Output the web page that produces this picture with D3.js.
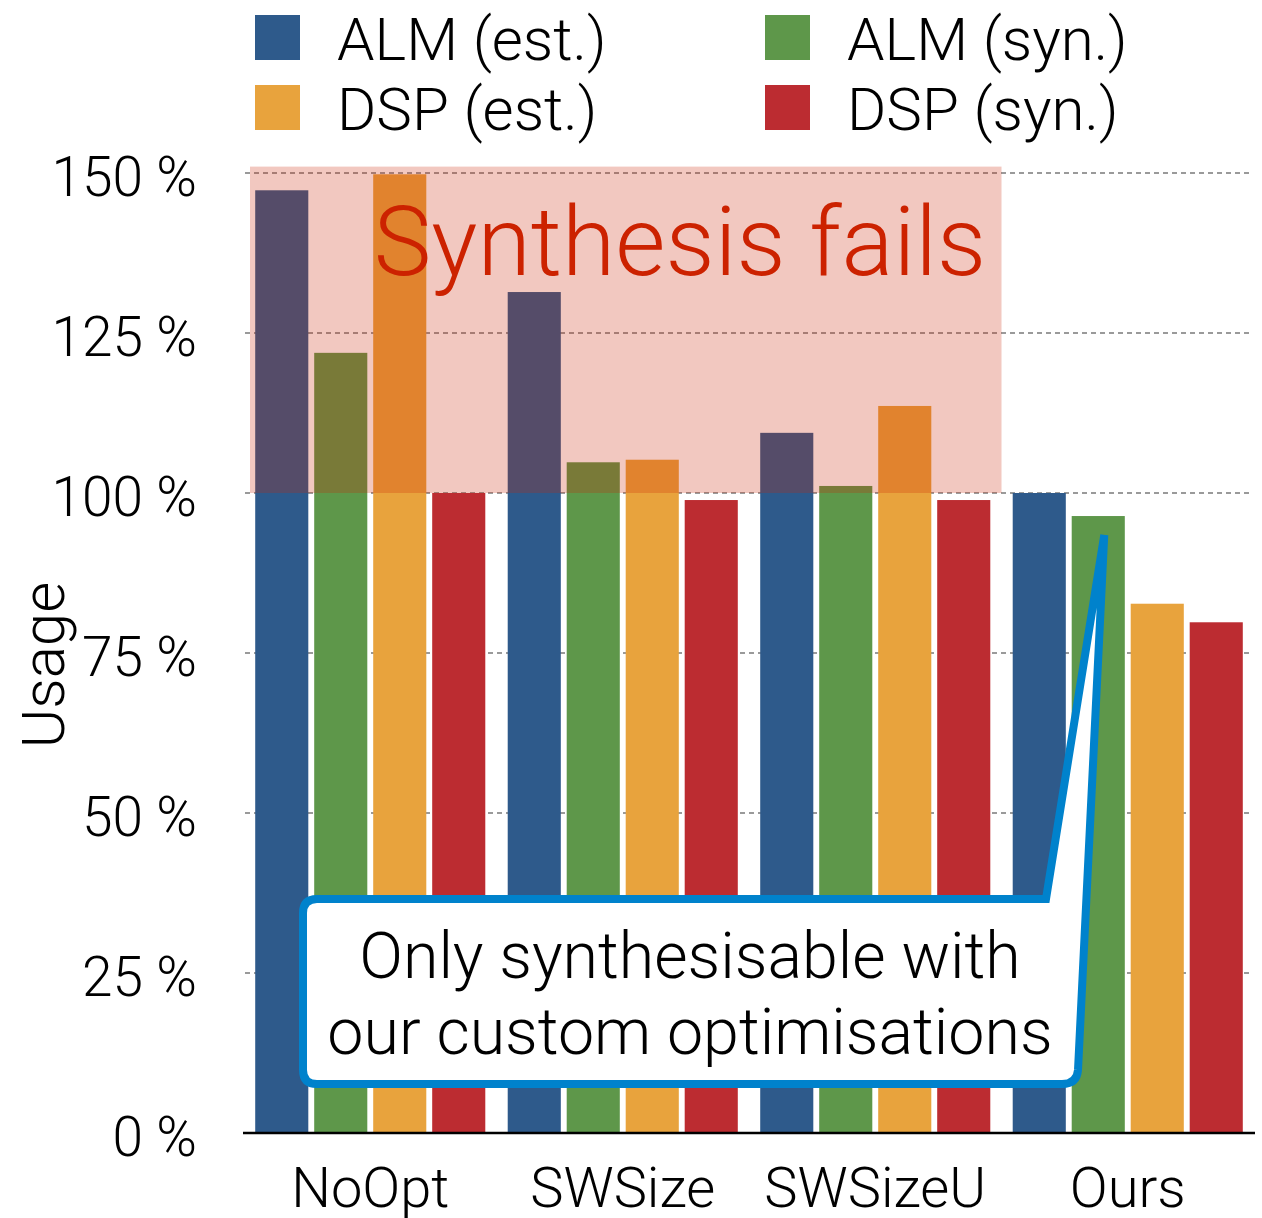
<!DOCTYPE html>
<html>
<head>
<meta charset="utf-8">
<script src="https://cdn.jsdelivr.net/npm/d3@7"></script>
<style>
  html, body { margin: 0; padding: 0; background: #fff; }
  svg { display: block; }
  text { font-family: Roboto, "Helvetica Neue", Arial, sans-serif; font-weight: 300; fill: #000; }
</style>
</head>
<body>
<svg id="chart" width="1262" height="1218"></svg>
<script>
// Resource usage per optimisation level
const categories = ["NoOpt", "SWSize", "SWSizeU", "Ours"];
const seriesNames = ["ALM (est.)", "ALM (syn.)", "DSP (est.)", "DSP (syn.)"];
const almEst = [147.3, 131.4, 109.4, 100.0];
const almSyn = [121.9, 104.8, 101.1, 96.4];
const dspEst = [149.8, 105.2, 113.6, 82.7];
const dspSyn = [100.0, 98.9, 98.9, 79.8];
const yTicks = [0, 25, 50, 75, 100, 125, 150];
const failThreshold = 100;
const failLabel = "Synthesis fails";
const calloutLines = ["Only synthesisable with", "our custom optimisations"];
const yTitle = "Usage";

const colors = ["#2e5a8b", "#5e974a", "#e8a33d", "#bc2c31"];
const values = [almEst, almSyn, dspEst, dspSyn];

const svg = d3.select("#chart");

const x = d3.scaleBand().domain(categories).range([244, 1254]).padding(0);
const xi = d3.scaleBand().domain(seriesNames).range([0, x.bandwidth()])
  .paddingInner(0.1).paddingOuter(0.19);
const y = d3.scaleLinear().domain([0, 150]).range([1133, 173]);

// dashed grid lines
svg.append("g").selectAll("line")
  .data(yTicks.filter(t => t > 0))
  .join("line")
  .attr("x1", 245).attr("x2", 1252)
  .attr("y1", d => y(d)).attr("y2", d => y(d))
  .attr("stroke", "#9a9a9a").attr("stroke-width", 2)
  .attr("stroke-dasharray", "5,4");

// bars
const rows = [];
categories.forEach((c, ci) => {
  seriesNames.forEach((s, si) => rows.push({ c, s, si, v: values[si][ci] }));
});
svg.append("g").selectAll("rect")
  .data(rows)
  .join("rect")
  .attr("x", d => x(d.c) + xi(d.s))
  .attr("width", xi.bandwidth())
  .attr("y", d => y(d.v))
  .attr("height", d => y(0) - y(d.v))
  .attr("fill", d => colors[d.si]);

// shaded region where synthesis fails
const failLeft = x("NoOpt") + 6;
const failRight = x("Ours");
svg.append("rect")
  .attr("x", failLeft).attr("width", failRight - failLeft)
  .attr("y", y(151)).attr("height", y(failThreshold) - y(151))
  .attr("fill", "rgb(203,36,5)").attr("fill-opacity", 0.25);

svg.append("text")
  .attr("x", 680)
  .attr("y", 275)
  .attr("text-anchor", "middle")
  .style("font-size", "97px")
  .style("fill", "#cc2200")
  .text(failLabel);

// x axis baseline
svg.append("line")
  .attr("x1", 243).attr("x2", 1255)
  .attr("y1", y(0)).attr("y2", y(0))
  .attr("stroke", "#000").attr("stroke-width", 2.5);

// y axis labels
const yAxis = svg.append("g")
  .attr("transform", "translate(244,5)")
  .call(d3.axisLeft(y).tickValues(yTicks).tickSize(0).tickPadding(47)
    .tickFormat(d => d + " %"));
yAxis.select(".domain").remove();
yAxis.selectAll("text")
  .style("font-size", "55px")
  .style("font-family", "Roboto, 'Helvetica Neue', Arial, sans-serif")
  .style("font-weight", 300)
  .attr("fill", "#000");

// category labels
svg.append("g").selectAll("text")
  .data(categories)
  .join("text")
  .attr("x", d => x(d) + x.bandwidth() / 2)
  .attr("y", 1207)
  .attr("text-anchor", "middle")
  .style("font-size", "56px")
  .text(d => d);

// y title
svg.append("text")
  .attr("transform", "translate(64,665) rotate(-90)")
  .attr("text-anchor", "middle")
  .style("font-size", "60px")
  .text(yTitle);

// legend (two columns, two rows)
const legendPos = [[255, 15], [765, 15], [255, 85], [765, 85]];
const legend = svg.append("g").selectAll("g")
  .data(seriesNames)
  .join("g")
  .attr("transform", (d, i) => `translate(${legendPos[i][0]},${legendPos[i][1]})`);
legend.append("rect")
  .attr("width", 45).attr("height", 45)
  .attr("fill", (d, i) => colors[i]);
legend.append("text")
  .attr("x", 82).attr("y", 45)
  .style("font-size", "60px")
  .text(d => d);

// callout pointing at the synthesised ALM bar of "Ours"
const tipX = x("Ours") + xi("ALM (syn.)") + xi.bandwidth() / 2 + 6;
const tipY = y(almSyn[3]) + 19;
const bx0 = 303, bx1 = 1076, by0 = 899, by1 = 1084, r = 14;
const callout = d3.path();
callout.moveTo(bx0 + r, by0);
callout.lineTo(1046, by0);
callout.lineTo(tipX, tipY);
callout.lineTo(bx1 + 2, by1 - r);
callout.quadraticCurveTo(bx1 + 1, by1, bx1 - r, by1);
callout.lineTo(bx0 + r, by1);
callout.quadraticCurveTo(bx0, by1, bx0, by1 - r);
callout.lineTo(bx0, by0 + r);
callout.quadraticCurveTo(bx0, by0, bx0 + r, by0);
callout.closePath();
svg.append("path")
  .attr("d", callout.toString())
  .attr("fill", "#fff")
  .attr("stroke", "#0082cc")
  .attr("stroke-width", 8)
  .attr("stroke-linejoin", "miter");

svg.append("g").selectAll("text")
  .data(calloutLines)
  .join("text")
  .attr("x", 690)
  .attr("y", (d, i) => 978 + i * 76)
  .attr("text-anchor", "middle")
  .style("font-size", "64.5px")
  .text(d => d);
</script>
</body>
</html>
